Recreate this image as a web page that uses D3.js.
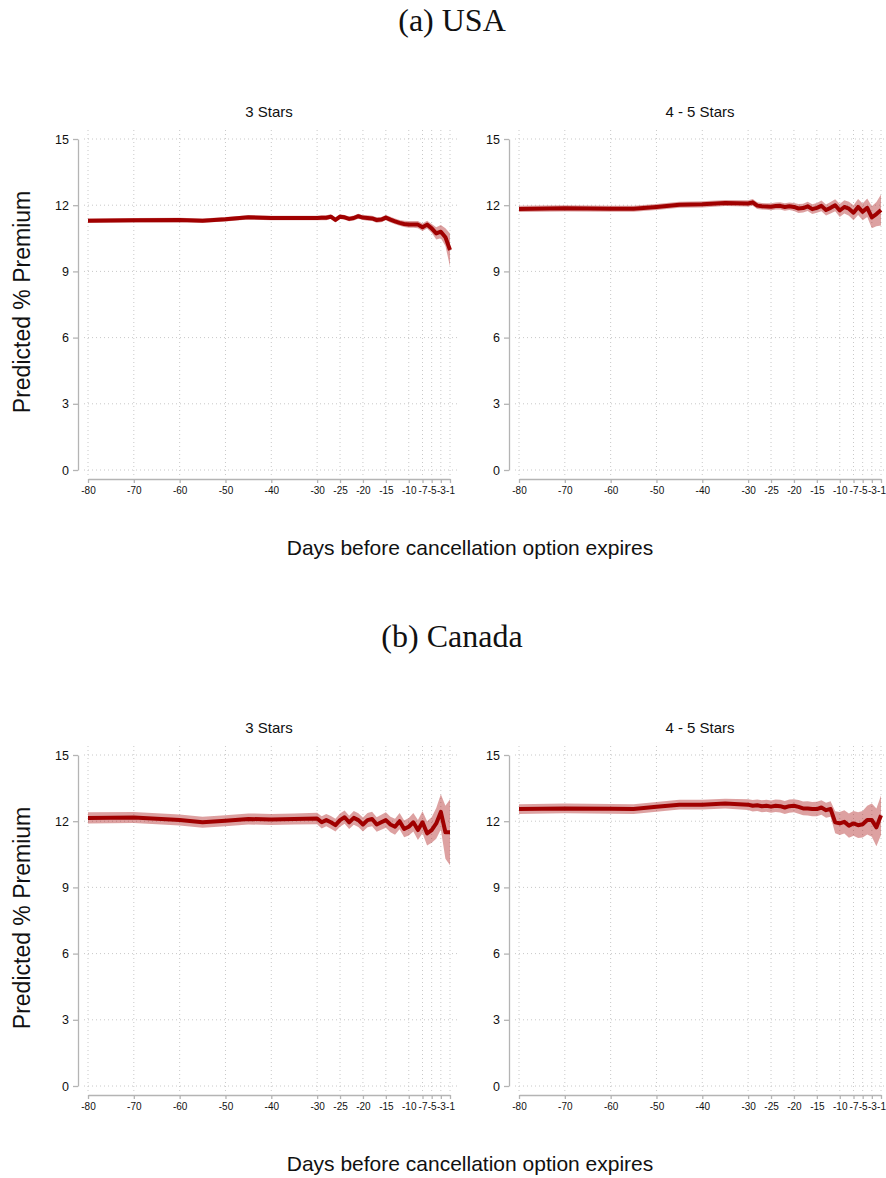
<!DOCTYPE html>
<html>
<head>
<meta charset="utf-8">
<script src="https://cdn.jsdelivr.net/npm/d3@7"></script>
<style>
  html, body { margin: 0; padding: 0; background: #fff; }
  svg { display: block; }
</style>
</head>
<body>
<svg id="fig" width="886" height="1178"></svg>
<script>
// Days before the free-cancellation option expires (binned early, daily in last 30 days)
const days = [-80, -70, -60, -55, -50, -45, -40, -35, -30,
  -29, -28, -27, -26, -25, -24, -23, -22, -21, -20,
  -19, -18, -17, -16, -15, -14, -13, -12, -11, -10,
  -9, -8, -7, -6, -5, -4, -3, -2, -1];

const xTicks = [-80, -70, -60, -50, -40, -30, -25, -20, -15, -10, -7, -5, -3, -1];
const yTicks = [0, 3, 6, 9, 12, 15];

// USA, 3 stars: predicted premium and half-width of the confidence band
const usa3Est = [11.30, 11.32, 11.33, 11.30, 11.36, 11.45, 11.42, 11.42, 11.42,
  11.43, 11.43, 11.48, 11.33, 11.48, 11.45, 11.38, 11.42, 11.50, 11.44,
  11.42, 11.40, 11.33, 11.35, 11.44, 11.35, 11.27, 11.20, 11.15, 11.13,
  11.13, 11.12, 11.00, 11.12, 10.95, 10.72, 10.80, 10.55, 9.97];
const usa3Ci = [0.10, 0.10, 0.10, 0.10, 0.10, 0.10, 0.10, 0.10, 0.10,
  0.11, 0.11, 0.11, 0.11, 0.11, 0.11, 0.11, 0.11, 0.11, 0.11,
  0.12, 0.12, 0.12, 0.12, 0.12, 0.13, 0.13, 0.13, 0.14, 0.15,
  0.15, 0.16, 0.17, 0.18, 0.20, 0.28, 0.30, 0.40, 0.75];

// USA, 4 - 5 stars
const usa45Est = [11.83, 11.86, 11.84, 11.84, 11.92, 12.02, 12.04, 12.10, 12.08,
  12.13, 11.98, 11.95, 11.94, 11.93, 11.96, 11.97, 11.92, 11.95, 11.92,
  11.85, 11.87, 11.95, 11.82, 11.88, 11.97, 11.78, 11.88, 12.00, 11.76,
  11.92, 11.84, 11.66, 11.92, 11.70, 11.88, 11.45, 11.60, 11.78];
const usa45Ci = [0.14, 0.14, 0.14, 0.14, 0.14, 0.14, 0.14, 0.14, 0.14,
  0.15, 0.15, 0.15, 0.15, 0.16, 0.16, 0.16, 0.17, 0.17, 0.18,
  0.20, 0.20, 0.21, 0.22, 0.22, 0.24, 0.25, 0.26, 0.27, 0.30,
  0.30, 0.32, 0.34, 0.36, 0.38, 0.42, 0.50, 0.55, 0.70];

// Canada, 3 stars
const can3Est = [12.15, 12.17, 12.05, 11.95, 12.02, 12.10, 12.08, 12.10, 12.12,
  11.95, 12.05, 11.95, 11.82, 12.05, 12.18, 11.95, 12.15, 12.05, 11.85,
  12.05, 12.10, 11.85, 11.95, 12.05, 11.85, 11.75, 12.00, 11.65, 11.75,
  11.95, 11.60, 11.95, 11.45, 11.60, 11.90, 12.42, 11.50, 11.50];
const can3Ci = [0.25, 0.25, 0.25, 0.25, 0.25, 0.25, 0.25, 0.25, 0.26,
  0.28, 0.28, 0.29, 0.29, 0.30, 0.30, 0.30, 0.31, 0.31, 0.32,
  0.32, 0.33, 0.33, 0.34, 0.35, 0.35, 0.36, 0.37, 0.38, 0.40,
  0.42, 0.45, 0.50, 0.55, 0.58, 0.70, 0.80, 1.20, 1.50];

// Canada, 4 - 5 stars
const can45Est = [12.55, 12.58, 12.56, 12.55, 12.65, 12.75, 12.75, 12.80, 12.75,
  12.70, 12.72, 12.68, 12.70, 12.66, 12.70, 12.68, 12.62, 12.68, 12.70,
  12.65, 12.58, 12.58, 12.55, 12.55, 12.62, 12.50, 12.55, 11.95, 11.90,
  11.97, 11.80, 11.90, 11.82, 11.86, 12.05, 12.05, 11.72, 12.27];
const can45Ci = [0.22, 0.22, 0.22, 0.22, 0.22, 0.22, 0.22, 0.22, 0.24,
  0.26, 0.26, 0.27, 0.27, 0.28, 0.28, 0.29, 0.29, 0.30, 0.30,
  0.31, 0.31, 0.32, 0.32, 0.33, 0.33, 0.34, 0.35, 0.50, 0.52,
  0.53, 0.55, 0.56, 0.58, 0.60, 0.65, 0.75, 0.85, 0.90];

const panelTitles = ["3 Stars", "4 - 5 Stars"];
const sectionTitles = ["(a) USA", "(b) Canada"];
const yTitle = "Predicted % Premium";
const xTitle = "Days before cancellation option expires";

const LINE = "#a00000";
const BAND = "rgb(175,30,30)";
const AXIS = "#b4b4b4";
const GRID = "#c8c8c8";

// plain hyphen-minus in tick labels
const fmt = d => String(d);

const svg = d3.select("#fig");

// Section layout: vertical offset of each country block
const sections = [
  { title: sectionTitles[0], top: 0, series: [[usa3Est, usa3Ci], [usa45Est, usa45Ci]] },
  { title: sectionTitles[1], top: 616, series: [[can3Est, can3Ci], [can45Est, can45Ci]] }
];
const colLeft = [88, 519];
const colWidth = 362;

sections.forEach(sec => {
  const g = svg.append("g").attr("transform", `translate(0,${sec.top})`);

  g.append("text")
    .attr("x", 452).attr("y", 31)
    .attr("text-anchor", "middle")
    .style("font-family", "'Liberation Serif', serif")
    .style("font-size", "32px")
    .attr("fill", "#111")
    .text(sec.title);

  g.append("text")
    .attr("transform", "translate(30,302) rotate(-90)")
    .attr("text-anchor", "middle")
    .style("font-family", "'Liberation Sans', Arial, sans-serif")
    .style("font-size", "23px")
    .attr("fill", "#111")
    .text(yTitle);

  g.append("text")
    .attr("x", 470).attr("y", 555)
    .attr("text-anchor", "middle")
    .style("font-family", "'Liberation Sans', Arial, sans-serif")
    .style("font-size", "21px")
    .attr("fill", "#111")
    .text(xTitle);

  sec.series.forEach(([est, ci], i) => {
    const x0 = colLeft[i];
    const x = d3.scaleLinear().domain([-80, -1]).range([x0, x0 + colWidth]);
    const y = d3.scaleLinear().domain([0, 15]).range([470, 139]);
    const p = g.append("g");

    p.append("text")
      .attr("x", (x(-80) + x(-1)) / 2).attr("y", 117)
      .attr("text-anchor", "middle")
      .style("font-family", "'Liberation Sans', Arial, sans-serif")
      .style("font-size", "15px")
      .attr("fill", "#111")
      .text(panelTitles[i]);

    // dotted grid
    const gy0 = y(15) - 9, gy1 = y(0) + 6;
    const gx0 = x(-80) - 4, gx1 = x(-1) + 7;
    p.append("g").selectAll("line.v").data(xTicks).join("line")
      .attr("x1", d => x(d)).attr("x2", d => x(d))
      .attr("y1", gy0).attr("y2", gy1)
      .attr("stroke", GRID).attr("stroke-width", 1)
      .attr("stroke-dasharray", "1,3");
    p.append("g").selectAll("line.h").data(yTicks).join("line")
      .attr("x1", gx0).attr("x2", gx1)
      .attr("y1", d => y(d)).attr("y2", d => y(d))
      .attr("stroke", GRID).attr("stroke-width", 1)
      .attr("stroke-dasharray", "1,3");

    const pts = days.map((d, k) => ({ d, v: est[k], lo: est[k] - ci[k], hi: est[k] + ci[k] }));

    p.append("path").datum(pts)
      .attr("d", d3.area().x(o => x(o.d)).y0(o => y(o.lo)).y1(o => y(o.hi)))
      .attr("fill", BAND).attr("fill-opacity", 0.42);

    p.append("path").datum(pts)
      .attr("d", d3.line().x(o => x(o.d)).y(o => y(o.v)))
      .attr("fill", "none").attr("stroke", LINE)
      .attr("stroke-width", 4).attr("stroke-linejoin", "round");

    // y axis
    const ya = p.append("g").attr("transform", `translate(${x0 - 10},0)`)
      .call(d3.axisLeft(y).tickValues(yTicks).tickFormat(fmt).tickSize(5).tickSizeOuter(0).tickPadding(4));
    ya.select(".domain").attr("stroke", AXIS).attr("stroke-width", 1.3);
    ya.selectAll(".tick line").attr("stroke", AXIS).attr("stroke-width", 1.3);
    ya.selectAll(".tick text")
      .style("font-family", "'Liberation Sans', Arial, sans-serif")
      .style("font-size", "12.5px").attr("fill", "#111");

    // x axis
    const xa = p.append("g").attr("transform", `translate(0,${y(0) + 9})`)
      .call(d3.axisBottom(x).tickValues(xTicks).tickFormat(fmt).tickSize(4).tickSizeOuter(0).tickPadding(4));
    xa.select(".domain").attr("stroke", AXIS).attr("stroke-width", 1.3);
    xa.selectAll(".tick line").attr("stroke", AXIS).attr("stroke-width", 1.3);
    xa.selectAll(".tick text")
      .style("font-family", "'Liberation Sans', Arial, sans-serif")
      .style("font-size", "10px").attr("fill", "#111");
  });
});
</script>
</body>
</html>
